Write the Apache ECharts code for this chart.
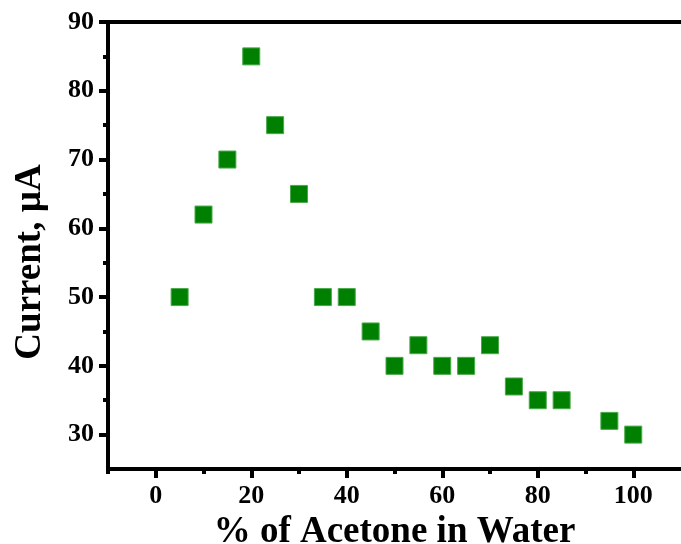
<!DOCTYPE html>
<html>
<head>
<meta charset="utf-8">
<script src="https://cdn.jsdelivr.net/npm/echarts@6/dist/echarts.min.js"></script>
<style>
html, body { margin: 0; padding: 0; background: #fff; }
#chart { width: 681px; height: 544px; }
</style>
</head>
<body>
<div id="chart"></div>
<script>
// % acetone and measured current
var acetone = [5, 10, 15, 20, 25, 30, 35, 40, 45, 50, 55, 60, 65, 70, 75, 80, 85, 95, 100]
var current = [50, 62, 70, 85, 75, 65, 50, 50, 45, 40, 43, 40, 40, 43, 37, 35, 35, 32, 30]
var xMajor = [0, 20, 40, 60, 80, 100]
var xMinor = [-10, 10, 30, 50, 70, 90]
var yMajor = [30, 40, 50, 60, 70, 80, 90]
var yMinor = [35, 45, 55, 65, 75, 85]

var font = 'Liberation Serif'
var chart = echarts.init(document.getElementById('chart'))

function axisLine() {
    return { show: true, onZero: false, lineStyle: { color: '#000', width: 4 } }
}

var option = {
    backgroundColor: '#fff',
    animation: false,
    grid: { left: 108, right: 0, top: 22, bottom: 75, outerBoundsMode: 'none', containLabel: false },
    xAxis: [{
        type: 'value', position: 'bottom', min: -10, max: 110,
        axisLine: axisLine(),
        axisTick: { show: true, customValues: xMajor, length: 9, lineStyle: { color: '#000', width: 4 } },
        axisLabel: { customValues: xMajor, margin: 14, color: '#000', fontFamily: font, fontWeight: 'bold', fontSize: 26 },
        splitLine: { show: false },
        name: '% of Acetone in Water', nameLocation: 'middle', nameGap: 40,
        nameTextStyle: { color: '#000', fontFamily: font, fontWeight: 'bold', fontSize: 37 }
    }, {
        type: 'value', position: 'bottom', min: -10, max: 110,
        axisLine: { show: false, onZero: false },
        axisTick: { show: true, customValues: xMinor, length: 5, lineStyle: { color: '#000', width: 4 } },
        axisLabel: { show: false },
        splitLine: { show: false }
    }, {
        type: 'value', position: 'top', min: -10, max: 110,
        axisLine: axisLine(),
        axisTick: { show: false },
        axisLabel: { show: false },
        splitLine: { show: false }
    }],
    yAxis: [{
        type: 'value', position: 'left', min: 25, max: 90,
        axisLine: axisLine(),
        axisTick: { show: true, customValues: yMajor, length: 9, lineStyle: { color: '#000', width: 4 } },
        axisLabel: { customValues: yMajor, margin: 14, color: '#000', fontFamily: font, fontWeight: 'bold', fontSize: 26 },
        splitLine: { show: false }
    }, {
        type: 'value', position: 'left', min: 25, max: 90,
        axisLine: { show: false, onZero: false },
        axisTick: { show: true, customValues: yMinor, length: 5, lineStyle: { color: '#000', width: 4 } },
        axisLabel: { show: false },
        splitLine: { show: false }
    }],
    graphic: [{
        type: 'text', x: 30, y: 262, rotation: Math.PI / 2,
        style: {
            text: 'Current, µA', fill: '#000', font: 'bold 37px "Liberation Serif"',
            align: 'center', verticalAlign: 'middle'
        }
    }],
    series: [{
        type: 'scatter',
        xAxisIndex: 0, yAxisIndex: 0,
        data: acetone.map(function(x, i) { return [x, current[i]] }),
        symbol: 'rect',
        symbolSize: 17,
        itemStyle: { color: '#008000', borderColor: '#4aa84a', borderWidth: 1, opacity: 1 }
    }]
}
chart.setOption(option)
</script>
</body>
</html>
